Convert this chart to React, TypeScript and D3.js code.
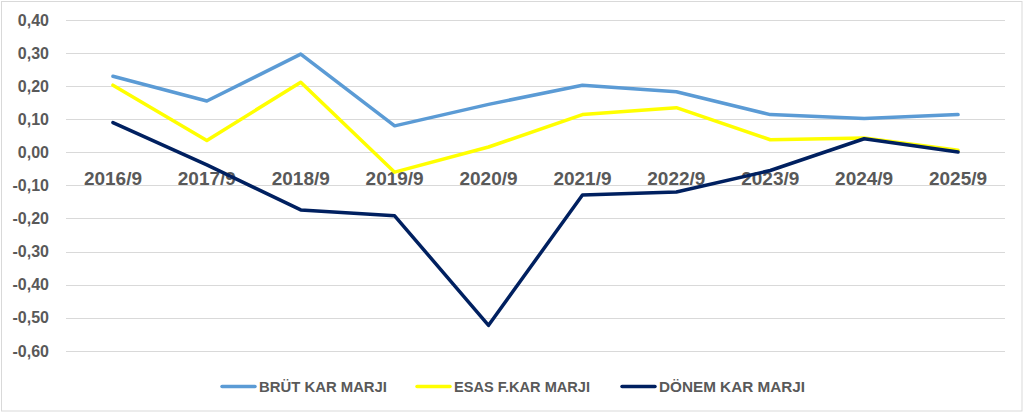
import React, { useEffect, useRef } from 'react';
import * as d3 from 'd3';

const CATEGORIES = ['2016/9', '2017/9', '2018/9', '2019/9', '2020/9', '2021/9', '2022/9', '2023/9', '2024/9', '2025/9'];
const BRUT = [0.23, 0.155, 0.297, 0.08, 0.145, 0.203, 0.183, 0.114, 0.102, 0.114];
const ESAS = [0.203, 0.036, 0.212, -0.06, 0.016, 0.114, 0.135, 0.038, 0.043, 0.006];
const DONEM = [0.09, -0.038, -0.174, -0.192, -0.523, -0.129, -0.12, -0.055, 0.041, 0.001];
const Y_TICKS = [0.4, 0.3, 0.2, 0.1, 0, -0.1, -0.2, -0.3, -0.4, -0.5, -0.6];
const SERIES_NAMES = ['BRÜT KAR MARJI', 'ESAS F.KAR MARJI', 'DÖNEM KAR MARJI'];
const SERIES_COLORS = ['#5B9BD5', '#FFFF00', '#002060'];

export default function App() {
    const svgRef = useRef<SVGSVGElement>(null);

    useEffect(() => {
        if (!svgRef.current) return;
        document.body.style.margin = '0';

        const width = 1024;
        const height = 413;
        const font = '"Liberation Sans", Arial, sans-serif';
        const textColor = '#595959';

        const svg = d3.select(svgRef.current);
        svg.selectAll('*').remove();
        svg.attr('width', width).attr('height', height).attr('viewBox', `0 0 ${width} ${height}`);

        svg.append('rect')
            .attr('width', width).attr('height', height).attr('fill', '#fff');
        svg.append('rect')
            .attr('x', 1.5).attr('y', 1.5)
            .attr('width', width - 3.5).attr('height', height - 3.5)
            .attr('fill', 'none').attr('stroke', '#d9d9d9');

        const x = d3.scalePoint<string>().domain(CATEGORIES).range([66, 1005]).padding(0.5);
        const y = d3.scaleLinear().domain([-0.6, 0.4]).range([350.8, 20]);
        const fmt = (v: number) => d3.format('.2f')(v).replace('.', ',').replace('−', '-');

        // grid + y labels
        const grid = svg.append('g');
        Y_TICKS.forEach(t => {
            grid.append('line')
                .attr('x1', 66).attr('x2', 1005)
                .attr('y1', Math.round(y(t)) + 0.5).attr('y2', Math.round(y(t)) + 0.5)
                .attr('stroke', '#d9d9d9').attr('stroke-width', 1);
            grid.append('text')
                .attr('x', 49).attr('y', y(t)).attr('dy', '0.36em')
                .attr('text-anchor', 'end')
                .style('font-family', font).style('font-weight', 700).style('font-size', '16px')
                .attr('fill', textColor)
                .text(fmt(t));
        });

        // category labels
        svg.append('g').selectAll('text')
            .data(CATEGORIES).enter().append('text')
            .attr('x', d => x(d) as number).attr('y', 185)
            .attr('text-anchor', 'middle')
            .style('font-family', font).style('font-weight', 700).style('font-size', '19px')
            .attr('fill', textColor)
            .text(d => d);

        // lines
        const line = d3.line<number>()
            .x((_, i) => x(CATEGORIES[i]) as number)
            .y(d => y(d));
        [BRUT, ESAS, DONEM].forEach((vals, i) => {
            svg.append('path')
                .attr('d', line(vals))
                .attr('fill', 'none')
                .attr('stroke', SERIES_COLORS[i])
                .attr('stroke-width', 3.5)
                .attr('stroke-linejoin', 'round')
                .attr('stroke-linecap', 'round');
        });

        // legend
        const legendX = [222, 417, 622];
        const legendTextW = [128, 136, 146];
        const legend = svg.append('g');
        SERIES_NAMES.forEach((name, i) => {
            legend.append('line')
                .attr('x1', legendX[i]).attr('x2', legendX[i] + 33)
                .attr('y1', 386.5).attr('y2', 386.5)
                .attr('stroke', SERIES_COLORS[i]).attr('stroke-width', 3.5)
                .attr('stroke-linecap', 'round');
            legend.append('text')
                .attr('x', legendX[i] + 37).attr('y', 386.5).attr('dy', '0.36em')
                .attr('textLength', legendTextW[i])
                .attr('lengthAdjust', 'spacingAndGlyphs')
                .style('font-family', font).style('font-weight', 700).style('font-size', '15px')
                .attr('fill', textColor)
                .text(name);
        });
    }, []);

    return <svg ref={svgRef} />;
}
